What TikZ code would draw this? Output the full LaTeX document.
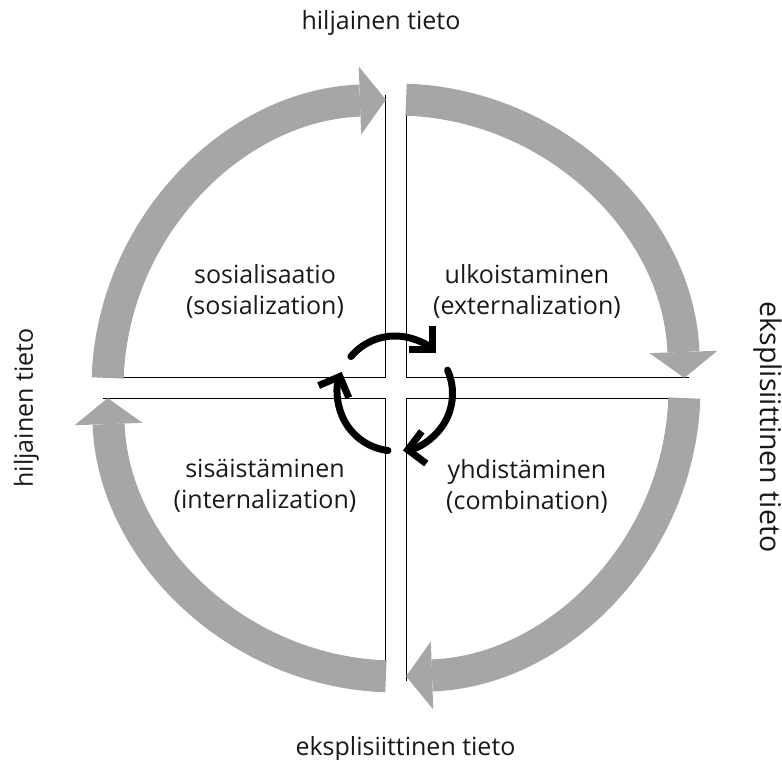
\documentclass[tikz,border=0pt]{standalone}
\usepackage{fontspec}
\setmainfont{Open Sans}
\usetikzlibrary{arrows.meta}
\definecolor{cyclegray}{RGB}{166,166,166}

\begin{document}
\begin{tikzpicture}[x=1pt, y=1pt, every node/.style={font=\fontsize{25}{31}\selectfont, align=center, text=black!90}, >={Straight Barb[angle=90:23pt]}]
	\useasboundingbox (-396,-372) rectangle (386,388);
	\foreach \sx/\sy in {-1/1, 1/1, 1/-1, -1/-1}
		\draw[line width=1.8pt] (293*\sx,10.5*\sy) -- (10.5*\sx,10.5*\sy) -- (10.5*\sx,293*\sy);
	\foreach \a in {180,90,0,-90}
		\draw[cyclegray, line width=32pt, -{Triangle[length=26pt, width=68pt, line width=0pt]}] ({\a-2}:288.5pt) arc[start angle=\a-2, end angle=\a-88, radius=288.5pt];
	\coordinate (hub) at (-1,-5.5);
	\foreach \s/\e in {140/45, 24/-82, -97/-202}
		\draw[line width=7pt, line cap=round, ->] ([shift={(\s:57.5pt)}]hub) arc[start angle=\s, end angle=\e, radius=57.5pt];
	\node (sosial) at (-131,97) {sosialisaatio\\(sosialization)};
	\node (ulkois) at (131,97) {ulkoistaminen\\(externalization)};
	\node (sisais) at (-131,-98) {sisäistäminen\\(internalization)};
	\node (yhdist) at (131,-98) {yhdistäminen\\(combination)};
	\node (tacittop) [anchor=base] at (-15,358) {hiljainen tieto};
	\node (explicitbottom) [anchor=base] at (9.5,-367) {eksplisiittinen tieto};
	\node (tacitleft) [anchor=base, rotate=90] at (-363,-20) {hiljainen tieto};
	\node (explicitright) [anchor=base, rotate=-90, font=\fontsize{28.5}{34}\selectfont] at (364,-39) {eksplisiittinen tieto};
\end{tikzpicture}
\end{document}
